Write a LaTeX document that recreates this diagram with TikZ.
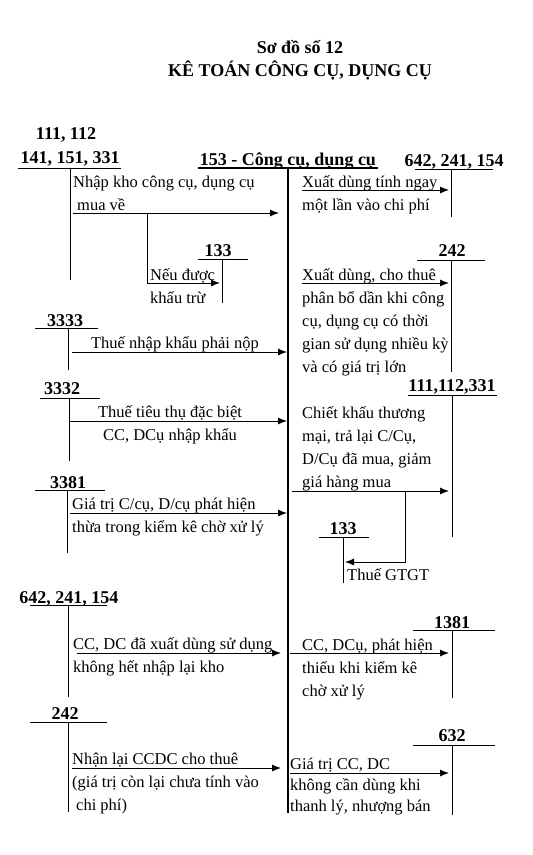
\documentclass[tikz,border=0pt]{standalone}
\usepackage{fontspec}
\setmainfont{Liberation Serif}
\usetikzlibrary{arrows.meta}

\begin{document}
\begin{tikzpicture}[x=1pt, y=-1pt,
  acc/.style={font=\fontsize{18}{20}\selectfont\bfseries, inner sep=0pt, anchor=base},
  lbl/.style={font=\fontsize{16.5}{23}\selectfont, align=left, inner sep=0pt, anchor=north west},
  tac/.style={line width=0.9pt},
  main/.style={line width=2pt},
  arr/.style={-{Latex[length=9pt,width=7pt]}, line width=0.9pt}
]
  \useasboundingbox (0,0) rectangle (533,855);

  % Tiêu đề
  \node[acc] (title1) at (300,53) {Sơ đồ số 12};
  \node[acc] (title2) at (300,76) {KÊ TOÁN CÔNG CỤ, DỤNG CỤ};

  % Tài khoản chính 153
  \node[acc] (a153) at (288,165) {153 - Công cụ, dụng cụ};
  \draw[main] (198,168) -- (378,168);
  \draw[main] (288,168) -- (288,813);

  % Bên trái
  \node[acc] (a111) at (66,139) {111, 112};
  \node[acc] (a141) at (70,163) {141, 151, 331};
  \draw[tac] (18,168) -- (121,168);
  \draw[tac] (70,168) -- (70,280);
  \node[lbl] (l141) at (73,171) {\strut Nhập kho công cụ, dụng cụ\\\hspace{4pt}mua về};
  \coordinate (s141) at (73,213);
  \coordinate (e141) at (279,213);
  \draw[arr] (s141) -- (e141);

  \node[acc] (a133l) at (218,256) {133};
  \draw[tac] (198,259) -- (248,259);
  \draw[tac] (222,259) -- (222,303);
  \node[lbl] (l133l) at (150,264) {\strut Nếu được\\khấu trừ};
  \coordinate (b133l) at (147,213);
  \coordinate (e133l) at (220,283);
  \draw[arr] (b133l) |- (e133l);

  \node[acc] (a3333) at (65,326) {3333};
  \draw[tac] (35,328) -- (98,328);
  \draw[tac] (68,328) -- (68,370);
  \node[lbl, anchor=north, align=center] (l3333) at (175,332) {\strut Thuế nhập khẩu phải nộp};
  \coordinate (s3333) at (72,352);
  \coordinate (e3333) at (287,352);
  \draw[arr] (s3333) -- (e3333);

  \node[acc] (a3332) at (62,394) {3332};
  \draw[tac] (40,398) -- (100,398);
  \draw[tac] (69,398) -- (69,461);
  \node[lbl, anchor=north, align=center] (l3332) at (170,401) {\strut Thuế tiêu thụ đặc biệt\\CC, DCụ nhập khẩu};
  \coordinate (s3332) at (70,421);
  \coordinate (e3332) at (287,421);
  \draw[arr] (s3332) -- (e3332);

  \node[acc] (a3381) at (68,488) {3381};
  \draw[tac] (35,490) -- (105,490);
  \draw[tac] (67,490) -- (67,553);
  \node[lbl] (l3381) at (72,493) {\strut Giá trị C/cụ, D/cụ phát hiện\\thừa trong kiểm kê chờ xử lý};
  \coordinate (s3381) at (70,513);
  \coordinate (e3381) at (287,513);
  \draw[arr] (s3381) -- (e3381);

  \node[acc] (a642l) at (69,603) {642, 241, 154};
  \draw[tac] (30,605) -- (107,605);
  \draw[tac] (68,605) -- (68,697);
  \node[lbl] (l642l) at (73,633) {\strut CC, DC đã xuất dùng sử dụng\\không hết nhập lại kho};
  \coordinate (s642l) at (77,653);
  \coordinate (e642l) at (281,653);
  \draw[arr] (s642l) -- (e642l);

  \node[acc] (a242l) at (65,719) {242};
  \draw[tac] (30,722) -- (107,722);
  \draw[tac] (68,722) -- (68,812);
  \node[lbl] (l242l) at (72,748) {\strut Nhận lại CCDC cho thuê\\(giá trị còn lại chưa tính vào\\\hspace{4pt}chi phí)};
  \coordinate (s242l) at (72,768);
  \coordinate (e242l) at (281,768);
  \draw[arr] (s242l) -- (e242l);

  % Bên phải
  \node[acc] (a642r) at (454,166) {642, 241, 154};
  \draw[tac] (415,169) -- (493,169);
  \draw[tac] (451,169) -- (451,217);
  \node[lbl] (l642r) at (302,171) {\strut Xuất dùng tính ngay\\một lần vào chi phí};
  \coordinate (s642r) at (302,190);
  \coordinate (e642r) at (449,190);
  \draw[arr] (s642r) -- (e642r);

  \node[acc] (a242r) at (452,256) {242};
  \draw[tac] (417,260) -- (485,260);
  \draw[tac] (451,260) -- (451,372);
  \node[lbl] (l242r) at (302,264) {\strut Xuất dùng, cho thuê\\phân bổ dần khi công\\cụ, dụng cụ có thời\\gian sử dụng nhiều kỳ\\và có giá trị lớn};
  \coordinate (s242r) at (302,283);
  \coordinate (e242r) at (449,283);
  \draw[arr] (s242r) -- (e242r);

  \node[acc] (a111r) at (452,391) {111,112,331};
  \draw[tac] (408,395) -- (497,395);
  \draw[tac] (452,395) -- (452,537);
  \node[lbl] (l111r) at (302,402) {\strut Chiết khấu thương\\mại, trả lại C/Cụ,\\D/Cụ đã mua, giảm\\giá hàng mua};
  \coordinate (s111r) at (292,491);
  \coordinate (e111r) at (449,491);
  \draw[arr] (s111r) -- (e111r);

  \node[acc] (a133r) at (343,534) {133};
  \draw[tac] (319,537) -- (369,537);
  \draw[tac] (343,537) -- (343,583);
  \node[lbl] (l133r) at (347,564) {\strut Thuế GTGT};
  \coordinate (b133r) at (405,491);
  \coordinate (e133r) at (345,562);
  \draw[arr] (b133r) |- (e133r);

  \node[acc] (a1381) at (452,628) {1381};
  \draw[tac] (413,630) -- (495,630);
  \draw[tac] (452,630) -- (452,698);
  \node[lbl] (l1381) at (302,634) {\strut CC, DCụ, phát hiện\\thiếu khi kiểm kê\\chờ xử lý};
  \coordinate (s1381) at (290,653);
  \coordinate (e1381) at (449,653);
  \draw[arr] (s1381) -- (e1381);

  \node[acc] (a632) at (452,741) {632};
  \draw[tac] (413,745) -- (495,745);
  \draw[tac] (452,745) -- (452,815);
  \node[lbl, font=\fontsize{16.5}{21}\selectfont] (l632) at (290,755) {\strut Giá trị CC, DC\\không cần dùng khi\\thanh lý, nhượng bán};
  \coordinate (s632) at (290,773);
  \coordinate (e632) at (449,773);
  \draw[arr] (s632) -- (e632);
\end{tikzpicture}
\end{document}
